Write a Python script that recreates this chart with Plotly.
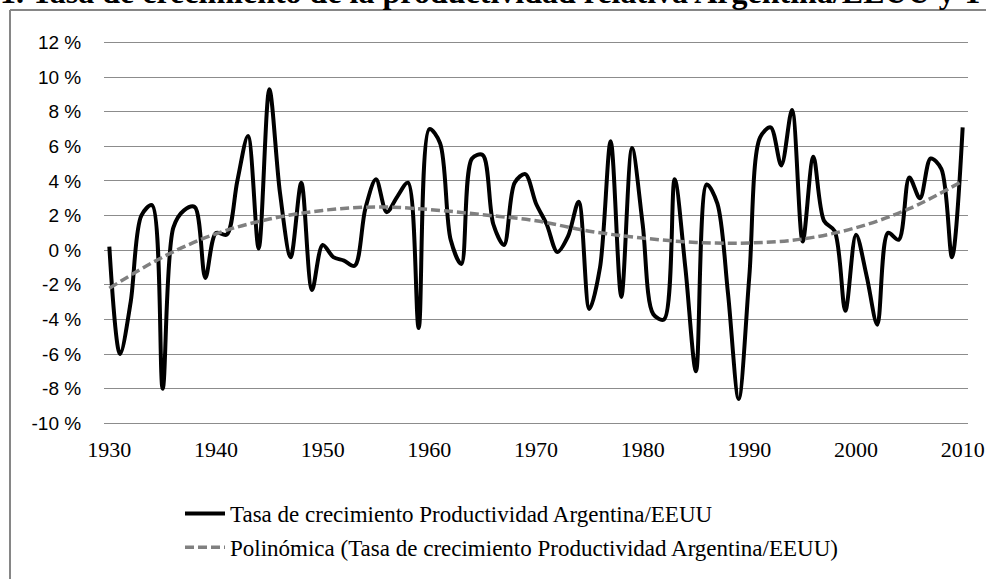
import plotly.graph_objects as go

# ---- data ----
years = list(range(1930, 2011))
tasa = [0.2, -6.0, -3.0, 2.0, 2.6, -8.0, 1.3, 2.3, 2.5, -1.6,
        1.0, 0.9, 4.0, 6.6, 0.1, 9.3, 3.3, -0.4, 3.9, -2.3,
        0.3, -0.4, -0.6, -0.9, 2.4, 4.1, 2.2, 3.1, 3.9, -4.5,
        7.0, 6.2, 0.6, -0.8, 5.3, 5.5, 1.5, 0.3, 3.9, 4.4,
        2.7, 1.5, -0.1, 0.8, 2.8, -3.4, -1.0, 6.3, -2.7, 5.9,
        1.5, -3.7, -4.0, 4.1, -1.0, -7.0, 3.8, 2.7, -2.5, -8.6,
        -1.5, 6.5, 7.1, 4.9, 8.1, 0.5, 5.4, 1.7, 1.1, -3.5,
        0.9, -1.5, -4.3, 1.0, 0.6, 4.2, 3.0, 5.3, 4.7, -0.4,
        7.1]
trend_years = [1930, 1935, 1940, 1945, 1950, 1955, 1960, 1965, 1970,
               1975, 1980, 1985, 1990, 1995, 2000, 2005, 2010]
trend_vals = [-2.2, -0.4, 0.95, 1.8, 2.3, 2.5, 2.35, 2.05, 1.7,
              1.1, 0.7, 0.45, 0.42, 0.65, 1.3, 2.4, 4.0]
x_ticks = [1930, 1940, 1950, 1960, 1970, 1980, 1990, 2000, 2010]
y_ticks = [-10, -8, -6, -4, -2, 0, 2, 4, 6, 8, 10, 12]
y_labels = ["-10 %", "-8 %", "-6 %", "-4 %", "-2 %", "0 %",
            "2 %", "4 %", "6 %", "8 %", "10 %", "12 %"]
name_main = "Tasa de crecimiento Productividad Argentina/EEUU"
name_trend = "Polinómica (Tasa de crecimiento Productividad Argentina/EEUU)"
title_text = "1. Tasa de crecimiento de la productividad relativa Argentina/EEUU y T"

W, H = 986, 579
PLOT_L, PLOT_R = 104, 968
# pixel rows of the 12 % and -10 % grid lines
Y_TOP, Y_BOT = 42.5, 423.3
PAD = 0.12  # small range padding so the edge grid lines are drawn
PX_PER_UNIT = (Y_BOT - Y_TOP) / 22.0


def fx(p):
    return p / W


def fy(p):
    return 1 - p / H


fig = go.Figure()
fig.add_trace(go.Scatter(
    x=years, y=tasa, mode="lines", name=name_main, legendgroup="a",
    line=dict(color="#000000", width=4, shape="spline", smoothing=0.9),
))
fig.add_trace(go.Scatter(
    x=trend_years, y=trend_vals, mode="lines", name=name_trend, legendgroup="b",
    line=dict(color="#808080", width=3.5, shape="spline", smoothing=1.0, dash="9px,4px"),
))

fig.update_layout(
    width=W, height=H,
    margin=dict(l=0, r=0, t=0, b=0, pad=0),
    paper_bgcolor="white", plot_bgcolor="white",
    showlegend=True,
    legend=dict(
        x=fx(180), y=fy(492), xanchor="left", yanchor="top",
        orientation="v", traceorder="grouped", tracegroupgap=1,
        font=dict(family="Liberation Serif", size=23, color="#000000"),
        bgcolor="rgba(0,0,0,0)", itemwidth=40,
    ),
    xaxis=dict(
        domain=[fx(PLOT_L), fx(PLOT_R)],
        range=[1929.5, 2010.5], tickmode="array", tickvals=x_ticks,
        showgrid=False, zeroline=False, showline=False,
        ticks="outside", ticklen=4, tickcolor="rgba(0,0,0,0)",
        tickfont=dict(family="Liberation Serif", size=22, color="#000000"),
        automargin=False,
    ),
    yaxis=dict(
        domain=[fy(Y_BOT + PAD * PX_PER_UNIT), fy(Y_TOP - PAD * PX_PER_UNIT)],
        range=[-10 - PAD, 12 + PAD], tickmode="array", tickvals=y_ticks, ticktext=y_labels,
        showgrid=True, gridcolor="#8c8c8c", gridwidth=1,
        zeroline=False, showline=False,
        ticks="outside", ticklen=18, tickcolor="rgba(0,0,0,0)",
        tickfont=dict(family="Liberation Sans", size=19, color="#000000"),
        automargin=False,
    ),
    shapes=[
        dict(type="line", xref="paper", yref="paper",
             x0=fx(10), x1=fx(W + 5), y0=fy(10), y1=fy(10),
             line=dict(color="#868686", width=2)),
        dict(type="line", xref="paper", yref="paper",
             x0=fx(10), x1=fx(10), y0=fy(10), y1=fy(H + 5),
             line=dict(color="#868686", width=2)),
    ],
    annotations=[dict(
        text="<b>" + title_text + "</b>", xref="paper", yref="paper",
        x=fx(-2), y=fy(12), xanchor="left", yanchor="bottom",
        showarrow=False,
        font=dict(family="Liberation Serif", size=32, color="#000000"),
    )],
)

fig.write_html("out.html", config={"displayModeBar": False},
               post_script="document.body.style.margin='0';document.body.style.overflow='hidden';")
